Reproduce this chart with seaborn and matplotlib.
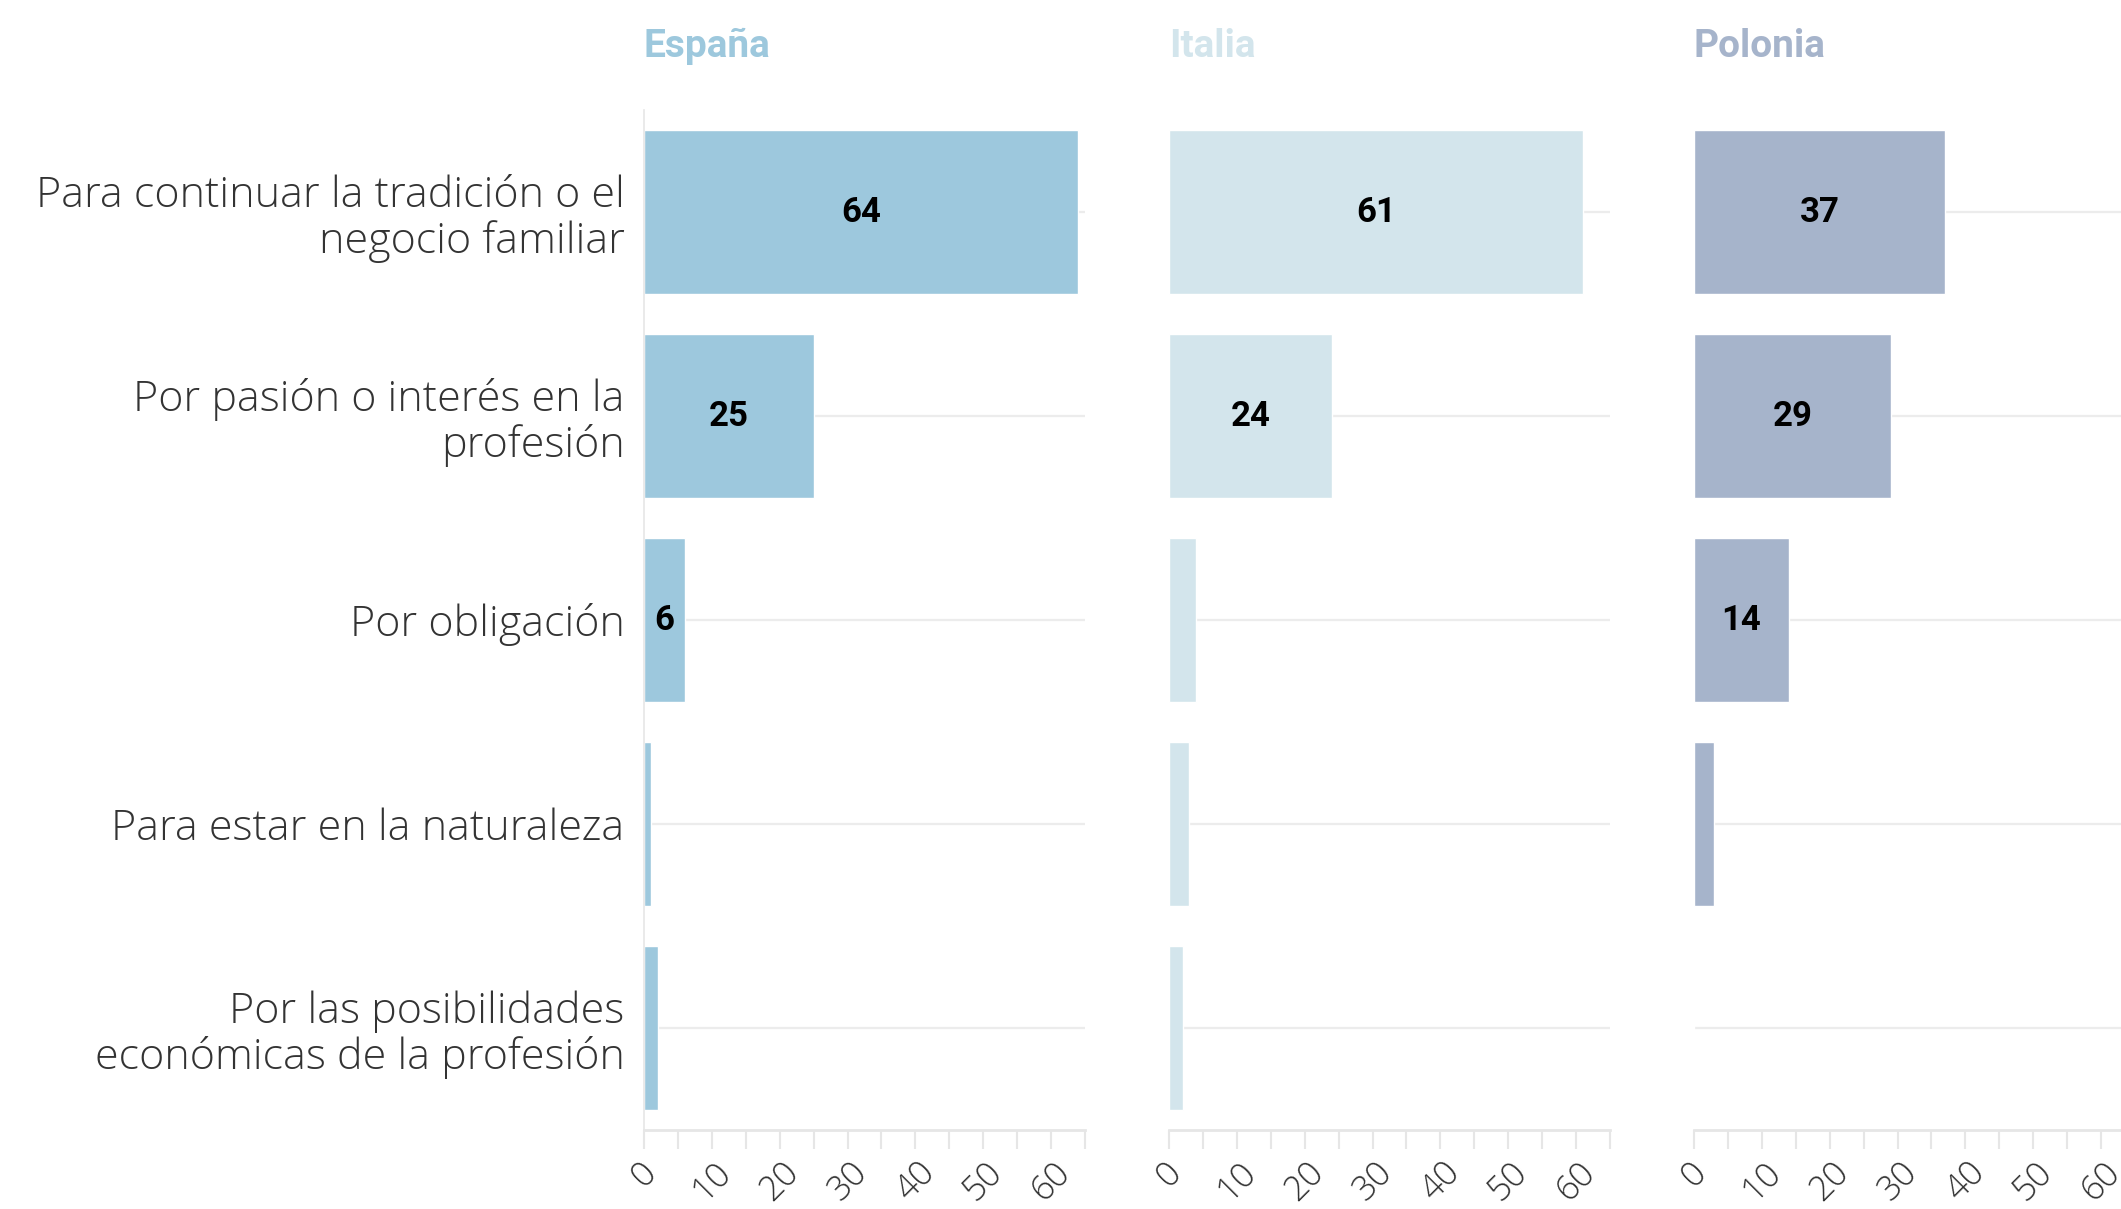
import pandas as pd
import matplotlib.pyplot as plt
import seaborn as sns
from matplotlib.ticker import MultipleLocator

# Datos
motivos = [
    "Para continuar la tradición o el\nnegocio familiar",
    "Por pasión o interés en la\nprofesión",
    "Por obligación",
    "Para estar en la naturaleza",
    "Por las posibilidades\neconómicas de la profesión",
]
paises = ["España", "Italia", "Polonia"]
espana = [64, 25, 6, 1, 2]
italia = [61, 24, 4, 3, 2]
polonia = [37, 29, 14, 3, 0]
colores = ["#9dc8dd", "#d3e5ec", "#a6b4cb"]

df = pd.DataFrame({
    "motivo": motivos * 3,
    "pais": [p for p in paises for _ in motivos],
    "valor": espana + italia + polonia,
})

sns.set_style("white")
plt.rcParams["font.family"] = ["Open Sans", "DejaVu Sans"]

fig = plt.figure(figsize=(21.21, 12.09), dpi=100)

W = 2121
H = 1209
lefts = [644, 1169, 1694]
ax_w = 441
top, bottom = 110, 1130
bold_fam = ["Roboto", "DejaVu Sans"]

for k, pais in enumerate(paises):
    ax = fig.add_axes([lefts[k] / W, 1 - bottom / H, ax_w / W, (bottom - top) / H])
    sub = df[df["pais"] == pais]
    sns.barplot(data=sub, x="valor", y="motivo", color=colores[k], saturation=1,
                width=0.8, ax=ax, zorder=2)
    ax.set_xlim(0, 65)
    ax.set_ylim(4.5, -0.5)
    ax.set_xlabel("")
    ax.set_ylabel("")

    # grid horizontal en cada categoría
    for i in range(len(motivos)):
        ax.axhline(i, color="#ececec", lw=1.6, zorder=1)

    ax.xaxis.set_major_locator(MultipleLocator(10))
    ax.xaxis.set_minor_locator(MultipleLocator(5))
    ax.tick_params(axis="x", which="both", length=14, width=1.5, color="#e6e6e6",
                   bottom=True, pad=4)
    ax.tick_params(axis="x", which="major", labelsize=25, labelcolor="#333333")
    for lbl in ax.get_xticklabels():
        lbl.set_rotation(45)
        lbl.set_ha("center")
        lbl.set_va("top")
        lbl.set_fontweight("light")

    for s in ["top", "right"]:
        ax.spines[s].set_visible(False)
    ax.spines["bottom"].set_color("#e6e6e6")
    ax.spines["bottom"].set_linewidth(2)
    if k == 0:
        ax.spines["left"].set_color("#e6e6e6")
        ax.spines["left"].set_linewidth(1.2)
        ax.tick_params(axis="y", length=0, pad=14, labelsize=31, labelcolor="#333333")
        for lbl in ax.get_yticklabels():
            lbl.set_linespacing(1.1)
            lbl.set_fontweight("light")
    else:
        ax.spines["left"].set_visible(False)
        ax.tick_params(axis="y", length=0, labelleft=False)

    vals = sub["valor"].tolist()
    ax.bar_label(ax.containers[0], labels=[str(v) if v >= 5 else "" for v in vals],
                 label_type="center", fontsize=25, fontweight="bold", color="black",
                 family=bold_fam)

    fig.text(lefts[k] / W, 1 - 57 / H, pais, color=colores[k], fontsize=28,
             fontweight="bold", ha="left", va="baseline", family=bold_fam)

fig.savefig("out.png", dpi=100)
